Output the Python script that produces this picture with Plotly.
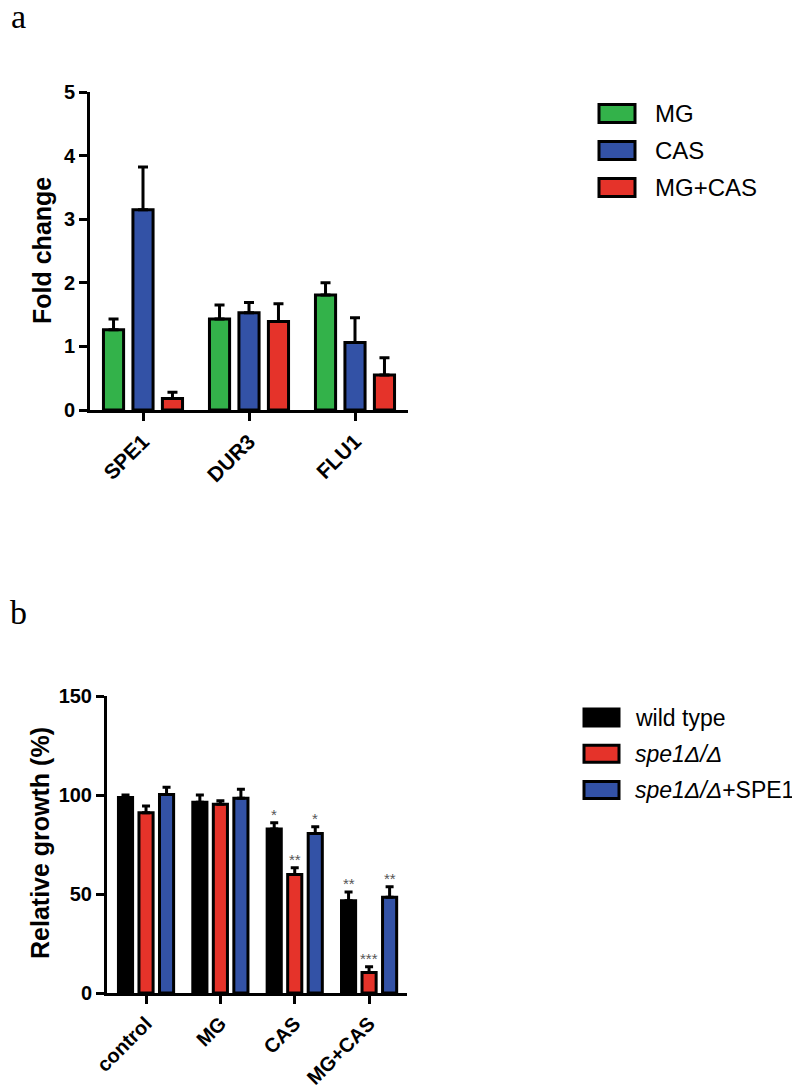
import plotly.graph_objects as go

# ---------------- Panel a data ----------------
genes = ["SPE1", "DUR3", "FLU1"]
a_series = ["MG", "CAS", "MG+CAS"]
a_mg = [1.26, 1.43, 1.81]
a_cas = [3.15, 1.53, 1.06]
a_mgcas = [0.18, 1.39, 0.55]
a_mg_err = [0.17, 0.22, 0.19]
a_cas_err = [0.67, 0.16, 0.39]
a_mgcas_err = [0.10, 0.28, 0.27]
a_ticks = [0, 1, 2, 3, 4, 5]

# ---------------- Panel b data ----------------
conditions = ["control", "MG", "CAS", "MG+CAS"]
b_series = ["wild type", "<i>spe1Δ/Δ</i>", "<i>spe1Δ/Δ</i>+SPE1"]
b_wt = [98.8, 96.3, 82.8, 46.6]
b_spe1 = [91.0, 95.3, 59.8, 10.3]
b_rescue = [100.3, 98.3, 80.6, 48.3]
b_wt_err = [1.2, 3.7, 3.2, 4.4]
b_spe1_err = [3.4, 1.8, 3.5, 3.0]
b_rescue_err = [3.6, 4.6, 3.4, 5.4]
b_wt_sig = ["", "", "*", "**"]
b_spe1_sig = ["", "", "**", "***"]
b_rescue_sig = ["", "", "*", "**"]
b_ticks = [0, 50, 100, 150]

# the page body has an 8 px margin; compensate so pixel targets match the window
OFF = 8
W, H = 800 - OFF, 1088 - OFF
GREEN, BLUE, RED, BLACK = "#33b24a", "#3352a6", "#e5332a", "#000000"
SANS = "Liberation Sans, Arial, sans-serif"
SERIF = "Liberation Serif, Times New Roman, serif"


def px(x):
    return (x - OFF) / W


def py(y):
    return 1 - (y - OFF) / H


fig = go.Figure()

# panel a bars
a_vals = [a_mg, a_cas, a_mgcas]
a_errs = [a_mg_err, a_cas_err, a_mgcas_err]
a_cols = [GREEN, BLUE, RED]
slot_a, width_a = 0.278, 0.19
for i in range(3):
    fig.add_trace(go.Bar(
        x=genes, y=a_vals[i], name=a_series[i], xaxis="x", yaxis="y",
        marker=dict(color=a_cols[i], line=dict(color="black", width=3)),
        width=width_a, offset=(i - 1) * slot_a - width_a / 2,
        error_y=dict(type="data", symmetric=False, array=a_errs[i],
                     arrayminus=[0] * len(genes), color="black", thickness=3, width=5),
        showlegend=False,
    ))

# panel b bars
b_vals = [b_wt, b_spe1, b_rescue]
b_errs = [b_wt_err, b_spe1_err, b_rescue_err]
b_sigs = [b_wt_sig, b_spe1_sig, b_rescue_sig]
b_cols = [BLACK, RED, BLUE]
slot_b, width_b = 0.276, 0.19
for i in range(3):
    fig.add_trace(go.Bar(
        x=conditions, y=b_vals[i], name=b_series[i], xaxis="x2", yaxis="y2",
        marker=dict(color=b_cols[i], line=dict(color="black", width=3)),
        width=width_b, offset=(i - 1) * slot_b - width_b / 2,
        error_y=dict(type="data", symmetric=False, array=b_errs[i],
                     arrayminus=[0] * len(conditions), color="black", thickness=3, width=4),
        showlegend=False,
    ))

annotations = []
# significance stars
for i in range(3):
    for j, s in enumerate(b_sigs[i]):
        if s:
            annotations.append(dict(
                x=j + (i - 1) * slot_b, y=b_vals[i][j] + b_errs[i][j],
                xref="x2", yref="y2", text=s, showarrow=False,
                xanchor="center", yanchor="bottom", yshift=-2,
                font=dict(family=SANS, size=15, color="#555555")))

# axis titles
annotations.append(dict(x=px(42), y=py(251), xref="paper", yref="paper",
                        text="<b>Fold change</b>", textangle=-90, showarrow=False,
                        xanchor="center", yanchor="middle",
                        font=dict(family=SANS, size=25, color="black")))
annotations.append(dict(x=px(40), y=py(843), xref="paper", yref="paper",
                        text="<b>Relative growth (%)</b>", textangle=-90, showarrow=False,
                        xanchor="center", yanchor="middle",
                        font=dict(family=SANS, size=25, color="black")))
# panel letters
annotations.append(dict(x=px(18), y=py(16), xref="paper", yref="paper", text="a",
                        showarrow=False, xanchor="center", yanchor="middle",
                        font=dict(family=SERIF, size=34, color="black")))
annotations.append(dict(x=px(18), y=py(612), xref="paper", yref="paper", text="b",
                        showarrow=False, xanchor="center", yanchor="middle",
                        font=dict(family=SERIF, size=34, color="black")))

shapes = []
# legend a
for i, (name, col) in enumerate(zip(a_series, a_cols)):
    cy = 113.5 + 37 * i
    shapes.append(dict(type="rect", xref="paper", yref="paper",
                       x0=px(599), x1=px(635), y0=py(cy - 9), y1=py(cy + 9),
                       fillcolor=col, line=dict(color="black", width=3)))
    annotations.append(dict(x=px(653), y=py(cy), xref="paper", yref="paper",
                            text=name, showarrow=False, xanchor="left", yanchor="middle",
                            font=dict(family=SANS, size=24, color="black")))
# legend b
for i, (name, col) in enumerate(zip(b_series, b_cols)):
    cy = 717.5 + 36.3 * i
    shapes.append(dict(type="rect", xref="paper", yref="paper",
                       x0=px(584), x1=px(619), y0=py(cy - 8.5), y1=py(cy + 8.5),
                       fillcolor=col, line=dict(color="black", width=3)))
    annotations.append(dict(x=px(633), y=py(cy), xref="paper", yref="paper",
                            text=name, showarrow=False, xanchor="left", yanchor="middle",
                            font=dict(family=SANS, size=23, color="black")))

axis_common = dict(showgrid=False, zeroline=False, showline=True, linecolor="black",
                   linewidth=3, ticks="outside", ticklen=8, tickwidth=3, tickcolor="black",
                   automargin=False)

fig.update_layout(
    width=W, height=H, autosize=False,
    margin=dict(l=0, r=0, t=0, b=0, pad=0),
    paper_bgcolor="white", plot_bgcolor="white",
    barmode="overlay",
    xaxis=dict(domain=[px(90), px(408)], anchor="y", range=[-0.5, 2.5],
               tickangle=-45, tickfont=dict(family=SANS, size=21, color="black", weight="bold"),
               **axis_common),
    yaxis=dict(domain=[py(410), py(92)], anchor="x", range=[0, 5], tickvals=a_ticks,
               tickfont=dict(family=SANS, size=20, color="black", weight="bold"),
               **axis_common),
    xaxis2=dict(domain=[px(107), px(407)], anchor="y2", range=[-0.525, 3.51],
                tickangle=-45, tickfont=dict(family=SANS, size=20, color="black", weight="bold"),
                **axis_common),
    yaxis2=dict(domain=[py(993), py(696)], anchor="x2", range=[0, 150], tickvals=b_ticks,
                tickfont=dict(family=SANS, size=20, color="black", weight="bold"),
                **axis_common),
    annotations=annotations,
    shapes=shapes,
)

fig.write_html("out.html")
